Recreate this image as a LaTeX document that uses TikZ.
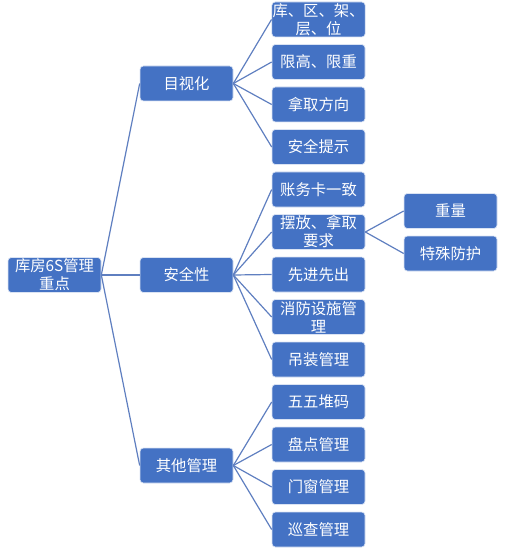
\documentclass[tikz,border=0pt]{standalone}
\usepackage{fontspec}
\newfontfamily\cjk{Noto Sans CJK SC}
\definecolor{boxblue}{HTML}{4472C4}
\definecolor{linkblue}{HTML}{5F7FC0}
\begin{document}
\begin{tikzpicture}[x=0.75pt,y=-0.75pt,
	box/.style={draw=white!80!boxblue, line width=0.5pt, fill=boxblue, rounded corners=2.5pt,
		minimum width=69.75pt, minimum height=26.25pt, inner sep=0.5pt, align=center,
		text=white, font=\cjk\fontsize{11.5}{13.5}\selectfont},
	link/.style={draw=linkblue, line width=0.9pt}]
	\useasboundingbox (0,0) rectangle (517,552);
	% root and first level
	\node[box] (root) at (54.5,275) {库房6S管理\\重点};
	\node[box] (vis) at (186.5,83.5) {目视化};
	\node[box] (safe) at (186.5,275) {安全性};
	\node[box] (other) at (186.5,465.5) {其他管理};
	% second level
	\node[box] (v1) at (318.5,19.5) {库、区、架、\\层、位};
	\node[box] (v2) at (318.5,62) {限高、限重};
	\node[box] (v3) at (318.5,104.5) {拿取方向};
	\node[box] (v4) at (318.5,147) {安全提示};
	\node[box] (s1) at (318.5,189.5) {账务卡一致};
	\node[box] (s2) at (318.5,232) {摆放、拿取\\要求};
	\node[box] (s3) at (318.5,274.5) {先进先出};
	\node[box] (s4) at (318.5,317) {消防设施管\\理};
	\node[box] (s5) at (318.5,359.5) {吊装管理};
	\node[box] (o1) at (318.5,402) {五五堆码};
	\node[box] (o2) at (318.5,444.5) {盘点管理};
	\node[box] (o3) at (318.5,487) {门窗管理};
	\node[box] (o4) at (318.5,529.5) {巡查管理};
	% third level
	\node[box] (w1) at (450.5,211) {重量};
	\node[box] (w2) at (450.5,253.5) {特殊防护};
	% connectors
	\foreach \c in {vis,safe,other}
		\draw[link] (root.east) -- (\c.west);
	\foreach \c in {v1,v2,v3,v4}
		\draw[link] (vis.east) -- (\c.west);
	\foreach \c in {s1,s2,s3,s4,s5}
		\draw[link] (safe.east) -- (\c.west);
	\foreach \c in {o1,o2,o3,o4}
		\draw[link] (other.east) -- (\c.west);
	\foreach \c in {w1,w2}
		\draw[link] (s2.east) -- (\c.west);
\end{tikzpicture}
\end{document}
